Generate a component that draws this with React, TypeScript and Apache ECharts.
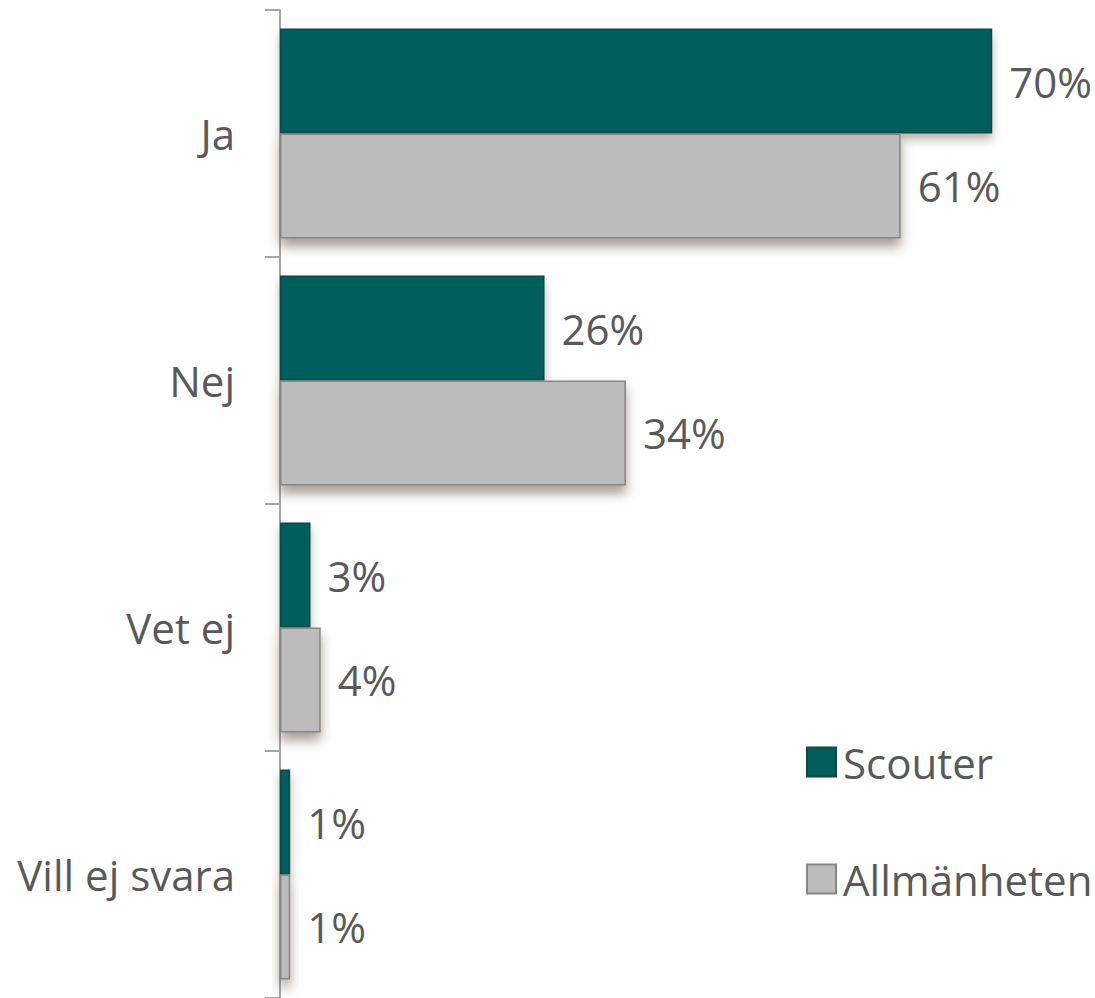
import React, { useEffect, useRef } from "react";
import * as echarts from "echarts";

const categories = ["Ja", "Nej", "Vet ej", "Vill ej svara"];
const scouterValues = [70, 26, 3, 1];
const allmanhetenValues = [61, 34, 4, 1];
const seriesNames = ["Scouter", "Allmänheten"];

const FONT = "'Open Sans', 'Noto Sans', sans-serif";
const TEXT_COLOR = "#595959";

export default function App() {
  const ref = useRef<HTMLDivElement>(null);
  useEffect(() => {
    if (!ref.current) return;
    const chart = echarts.init(ref.current, undefined, { renderer: "svg" });
    const labelCfg = {
      show: true,
      position: "right" as const,
      distance: 17,
      fontSize: 42,
      fontFamily: FONT,
      color: TEXT_COLOR,
      formatter: (p: any) => `${p.value}%`,
    };
    chart.setOption({
      animation: false,
      grid: { left: 280, right: 1, top: 10, bottom: 0, containLabel: false },
      legend: {
        orient: "vertical",
        left: 801,
        top: 736,
        itemWidth: 29,
        itemHeight: 29,
        itemGap: 75,
        icon: "rect",
        textStyle: { fontSize: 42, fontFamily: FONT, color: TEXT_COLOR, padding: [0, 0, 0, 2] },
        data: seriesNames,
      },
      xAxis: {
        type: "value",
        min: 0,
        max: 80,
        show: false,
        splitLine: { show: false },
      },
      yAxis: {
        type: "category",
        inverse: true,
        data: categories,
        axisLine: { show: true, lineStyle: { color: "#a6a6a6", width: 2 } },
        axisTick: { show: true, length: 15, lineStyle: { color: "#a6a6a6", width: 2 } },
        axisLabel: { margin: 45, fontSize: 42, fontFamily: FONT, color: TEXT_COLOR },
      },
      series: [
        {
          name: seriesNames[0],
          type: "bar",
          data: scouterValues,
          barCategoryGap: "15%",
          barGap: "0%",
          itemStyle: {
            color: "#035e5b",
            borderColor: "#0b4a48",
            borderWidth: 1.5,
            shadowBlur: 10,
            shadowOffsetY: 6,
            shadowColor: "rgba(60,40,30,0.35)",
          },
          label: labelCfg,
        },
        {
          name: seriesNames[1],
          type: "bar",
          data: allmanhetenValues,
          barCategoryGap: "15%",
          barGap: "0%",
          itemStyle: {
            color: "#bcbcbc",
            borderColor: "#858585",
            borderWidth: 1.5,
            shadowBlur: 12,
            shadowOffsetY: 8,
            shadowColor: "rgba(80,55,40,0.5)",
          },
          label: labelCfg,
        },
      ],
    });
    return () => chart.dispose();
  }, []);
  return (
    <div
      ref={ref}
      style={{ position: "absolute", left: 0, top: 0, width: 1095, height: 998, background: "#fff" }}
    />
  );
}
